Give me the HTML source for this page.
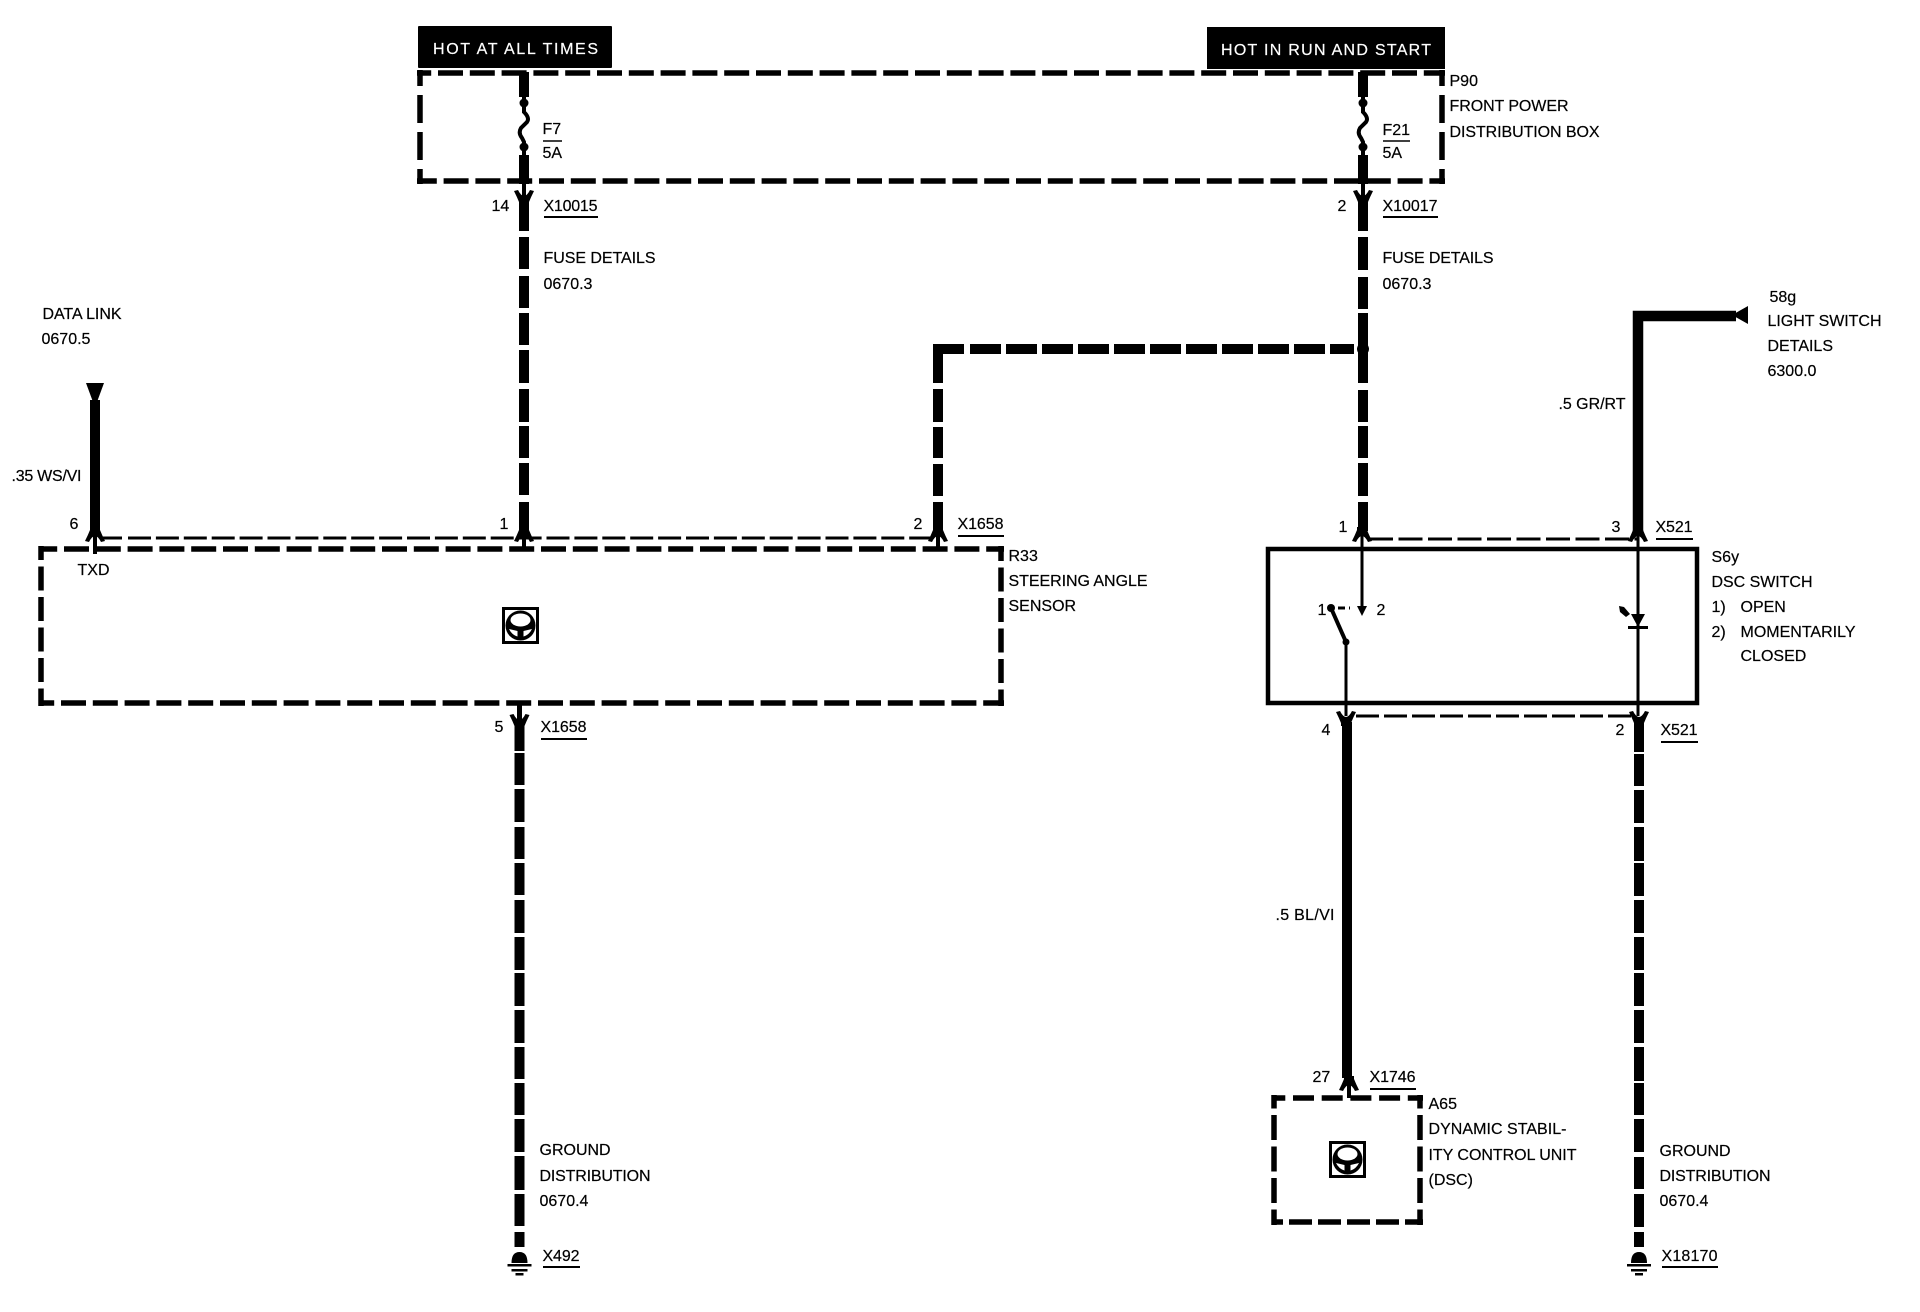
<!DOCTYPE html>
<html><head><meta charset="utf-8"><style>
html,body{margin:0;padding:0;background:#fff}
svg{display:block}
text{font-family:"Liberation Sans",sans-serif;font-size:16px;fill:#000;stroke:#000;stroke-width:.2;transform:translate(-.5px,-.8px)}
text.h{transform:none;fill:#fff;stroke:#fff}
.w{stroke:#000;stroke-width:10;fill:none}
.b{stroke:#000;stroke-width:5.5;fill:none}
.t{stroke:#000;stroke-width:3;fill:none}
.u{stroke:#000;stroke-width:2;fill:none}
.n{stroke:#000;fill:none}
</style></head><body>
<svg width="1920" height="1312" viewBox="0 0 1920 1312" xmlns="http://www.w3.org/2000/svg">
<rect width="1920" height="1312" fill="#fff"/>
<defs>
<path id="y" d="M-10,0 L-6,-1 Q-3,5 0,5 Q3,5 6,-1 L10,0 Q7,6 5,11 L5,14 L-5,14 L-5,11 Q-7,6 -10,0 Z"/>
<g id="wheel">
<rect x="1.5" y="1.5" width="34" height="34" fill="#fff" stroke="#000" stroke-width="3"/>
<circle cx="18.5" cy="18.5" r="15" fill="#000"/>
<ellipse cx="18.5" cy="13" rx="10" ry="6.5" fill="#fff"/>
<path d="M7,22 L15.5,24 L15.5,29.5 Q10,28 7,22Z M30,22 L21.5,24 L21.5,29.5 Q27,28 30,22Z" fill="#fff"/>
</g>
<g id="gnd">
<path d="M-8,-1 Q-8,-12 0,-12 Q8,-12 8,-1 Z" fill="#000"/>
<rect x="-12" y="0" width="24" height="2.5"/>
<rect x="-8" y="5" width="16" height="2.5"/>
<rect x="-4" y="9" width="8" height="2.5"/>
</g>
</defs>

<!-- hot bars -->
<rect x="418" y="26" width="194" height="42" rx="1"/>
<rect x="1207" y="27" width="238" height="42"/>
<text class="h" x="433" y="54" textLength="165" lengthAdjust="spacing">HOT AT ALL TIMES</text>
<text class="h" x="1221" y="55" textLength="210" lengthAdjust="spacing">HOT IN RUN AND START</text>

<!-- P90 dashed box -->
<path class="b" d="M417,73 H1445" stroke-dasharray="25 6.8" stroke-dashoffset="10.8"/>
<path class="b" d="M417,181 H1445" stroke-dasharray="25 6.8" stroke-dashoffset="5.2"/>
<path class="b" d="M420,70 V184" stroke-dasharray="28 9" stroke-dashoffset="12"/>
<path class="b" d="M1442,70 V184" stroke-dasharray="28 9" stroke-dashoffset="12"/>

<!-- R33 dashed box -->
<path class="b" d="M41,549 H1004" stroke-dasharray="25 6.8" stroke-dashoffset="8.8"/>
<path class="b" d="M41,703 H1004" stroke-dasharray="25 6.8" stroke-dashoffset="11.8"/>
<path class="b" d="M41,546 V706" stroke-dasharray="24 6.5" stroke-dashoffset="10"/>
<path class="b" d="M1001,546 V706" stroke-dasharray="24 6.5" stroke-dashoffset="9"/>

<!-- S6y solid box -->
<rect x="1268" y="549" width="429" height="154" fill="none" stroke="#000" stroke-width="4.5"/>

<!-- A65 dashed box -->
<path class="b" d="M1274,1098 H1423" stroke-dasharray="21 7.7" stroke-dashoffset="9.7"/>
<path class="b" d="M1274,1222 H1423" stroke-dasharray="23 6" stroke-dashoffset="14"/>
<path class="b" d="M1274,1095 V1225" stroke-dasharray="25 6.5" stroke-dashoffset="11.5"/>
<path class="b" d="M1420,1095 V1225" stroke-dasharray="25 6.5" stroke-dashoffset="11.5"/>

<!-- Wire A (F7) -->
<path class="w" d="M524,72V97M524,155V184M524,196V231M524,237V269M524,276V308M524,313V345M524,350V383M524,389V422M524,426V458M524,463V495M524,502V531"/>
<path class="n" d="M524,180V196" style="stroke-width:4"/>
<path class="n" d="M524,97 V103 L524,112 Q530,118 527,122 L521,128 Q518,133 522,138 L524,142 V155" style="stroke-width:4"/>
<circle cx="524" cy="103" r="4.5"/><circle cx="524" cy="147" r="4.5"/>
<use href="#y" x="524" y="191"/>

<!-- Wire B (F21) -->
<path class="w" d="M1363,72V97M1363,155V184M1363,196V231M1363,237V270M1363,277V309M1363,313V345M1363,357V383M1363,390V422M1363,426V458M1363,463V496M1363,502V531"/>
<path class="n" d="M1363,180V196" style="stroke-width:4"/>
<path class="n" d="M1363,97 V103 L1363,112 Q1369,118 1366,122 L1360,128 Q1357,133 1361,138 L1363,142 V155" style="stroke-width:4"/>
<circle cx="1363" cy="103" r="4.5"/><circle cx="1363" cy="147" r="4.5"/>
<use href="#y" x="1363" y="191"/>
<path class="w" d="M1363,345V357"/>
<circle cx="1363" cy="349" r="6"/>

<!-- branch to pin 2 -->
<path class="w" d="M933,349H964M970,349H1001M1006,349H1037M1042,349H1073M1078,349H1109M1114,349H1145M1150,349H1181M1186,349H1217M1222,349H1253M1258,349H1289M1294,349H1325M1330,349H1354"/>
<path class="w" d="M938,344V383M938,389V422M938,427V458M938,464V496M938,502V531"/>

<!-- Data link wire -->
<path d="M86,383 H104 L97,402 H93 Z"/>
<path class="w" d="M95,400V531"/>

<!-- thin line over R33 -->
<path class="t" d="M100,538 H122"/>
<path class="t" d="M128,538 H934" stroke-dasharray="23 4.9"/>

<!-- pin arrows top R33 -->
<g>
<use href="#y" transform="translate(95,541) scale(1,-1)"/>
<use href="#y" transform="translate(524,541) scale(1,-1)"/>
<use href="#y" transform="translate(938,541) scale(1,-1)"/>
<path class="n" d="M95,536V554" style="stroke-width:4"/>
<path class="n" d="M524,536V549" style="stroke-width:4"/>
<path class="n" d="M938,536V549" style="stroke-width:4"/>
</g>

<!-- Wire C lower R33 -->
<path class="n" d="M519.5,703V720" style="stroke-width:5"/>
<path class="w" d="M519.5,720V751M519.5,753V785M519.5,789V822M519.5,827V859M519.5,863V895M519.5,900V933M519.5,937V970M519.5,973V1006M519.5,1010V1043M519.5,1047V1079M519.5,1083V1115M519.5,1119V1152M519.5,1156V1190M519.5,1194V1226M519.5,1232V1247"/>
<use href="#y" x="519.5" y="715"/>
<use href="#gnd" x="519.5" y="1264"/>

<!-- Light switch wire -->
<path class="w" d="M1638,531V316H1736" style="stroke-width:10.5"/>
<path d="M1732,315 L1748,306 V324 Z"/>

<!-- thin above S6y -->
<path class="t" d="M1362,539 H1638" stroke-dasharray="24 5.5" stroke-dashoffset="22.5"/>
<use href="#y" transform="translate(1362,541) scale(1,-1)"/>
<use href="#y" transform="translate(1638,541) scale(1,-1)"/>

<!-- S6y inner -->
<path class="n" d="M1362,536V608" style="stroke-width:3"/>
<path d="M1357,606 H1367 L1362,616 Z"/>
<path d="M1338,608 H1350" stroke="#000" stroke-width="3" stroke-dasharray="7 4"/>
<circle cx="1331" cy="608" r="4"/>
<path d="M1331,608 L1346,642" stroke="#000" stroke-width="4"/>
<circle cx="1346" cy="642" r="3.5"/>
<path class="n" d="M1346,642V716" style="stroke-width:3"/>
<path class="n" d="M1638,536V716" style="stroke-width:3"/>
<path d="M1631,614 H1645 L1638,627 Z"/>
<rect x="1628" y="626" width="20" height="3"/>
<path d="M1619,606 L1624,607 L1630,614 L1626,617 L1620,612 Z"/>

<!-- thin below S6y -->
<path class="t" d="M1356,716 H1632" stroke-dasharray="23 5"/>
<use href="#y" x="1346" y="712"/>
<use href="#y" x="1639" y="712"/>

<!-- BL/VI wire -->
<path class="w" d="M1347,722V1078" />
<use href="#y" transform="translate(1349,1090) scale(1,-1)"/>
<path class="n" d="M1349,1085V1098" style="stroke-width:4"/>

<!-- ground wire right -->
<path class="w" d="M1639,722V752M1639,754V786M1639,790V823M1639,827V861M1639,863V896M1639,900V933M1639,937V970M1639,973V1006M1639,1010V1043M1639,1047V1081M1639,1083V1115M1639,1119V1152M1639,1157V1189M1639,1194V1227M1639,1232V1247"/>
<use href="#gnd" x="1639" y="1264"/>

<!-- icons -->
<use href="#wheel" x="502" y="607"/>
<use href="#wheel" x="1329" y="1141"/>

<!-- labels -->
<text x="543" y="135">F7</text><path class="u" d="M543,141H562" style="stroke-width:1.5"/><text x="543" y="159">5A</text>
<text x="492" y="212">14</text>
<text x="544" y="212" textLength="54">X10015</text><path class="u" d="M544,217H598"/>
<text x="544" y="264" textLength="112">FUSE DETAILS</text><text x="544" y="290">0670.3</text>

<text x="1383" y="136">F21</text><path class="u" d="M1383,141H1410" style="stroke-width:1.5"/><text x="1383" y="159">5A</text>
<text x="1338" y="212">2</text>
<text x="1383" y="212" textLength="55">X10017</text><path class="u" d="M1383,217H1438"/>
<text x="1383" y="264" textLength="111">FUSE DETAILS</text><text x="1383" y="290">0670.3</text>

<text x="1450" y="87">P90</text>
<text x="1450" y="112" textLength="119">FRONT POWER</text>
<text x="1450" y="138" textLength="150">DISTRIBUTION BOX</text>

<text x="1770" y="303">58g</text>
<text x="1768" y="327" textLength="114">LIGHT SWITCH</text>
<text x="1768" y="352">DETAILS</text>
<text x="1768" y="377">6300.0</text>
<text x="1559" y="410" textLength="67">.5 GR/RT</text>

<text x="43" y="320" textLength="79">DATA LINK</text>
<text x="42" y="345">0670.5</text>
<text x="12" y="482" textLength="70">.35 WS/VI</text>
<text x="70" y="530">6</text>
<text x="500" y="530">1</text>
<text x="914" y="530">2</text>
<text x="958" y="530" textLength="46">X1658</text><path class="u" d="M958,536H1004"/>
<text x="78" y="576">TXD</text>
<text x="1009" y="562">R33</text>
<text x="1009" y="587" textLength="139">STEERING ANGLE</text>
<text x="1009" y="612">SENSOR</text>
<text x="495" y="733">5</text>
<text x="541" y="733" textLength="46">X1658</text><path class="u" d="M541,739H587"/>

<text x="1339" y="533">1</text>
<text x="1612" y="533">3</text>
<text x="1656" y="533" textLength="37">X521</text><path class="u" d="M1656,539H1693"/>
<text x="1712" y="563">S6y</text>
<text x="1712" y="588" textLength="101">DSC SWITCH</text>
<text x="1712" y="613">1)</text><text x="1741" y="613">OPEN</text>
<text x="1712" y="638">2)</text><text x="1741" y="638" textLength="115">MOMENTARILY</text>
<text x="1741" y="662">CLOSED</text>
<text x="1318" y="616">1</text>
<text x="1377" y="616">2</text>
<text x="1322" y="736">4</text>
<text x="1616" y="736">2</text>
<text x="1661" y="736" textLength="37">X521</text><path class="u" d="M1661,742H1698"/>
<text x="1276" y="921" textLength="59">.5 BL/VI</text>

<text x="1313" y="1083">27</text>
<text x="1370" y="1083" textLength="46">X1746</text><path class="u" d="M1370,1089H1416"/>
<text x="1429" y="1110">A65</text>
<text x="1429" y="1135" textLength="138">DYNAMIC STABIL-</text>
<text x="1429" y="1161" textLength="148">ITY CONTROL UNIT</text>
<text x="1429" y="1186">(DSC)</text>

<text x="1660" y="1157">GROUND</text>
<text x="1660" y="1182" textLength="111">DISTRIBUTION</text>
<text x="1660" y="1207">0670.4</text>
<text x="1662" y="1262" textLength="56">X18170</text><path class="u" d="M1662,1267H1718"/>

<text x="540" y="1156">GROUND</text>
<text x="540" y="1182" textLength="111">DISTRIBUTION</text>
<text x="540" y="1207">0670.4</text>
<text x="543" y="1262" textLength="37">X492</text><path class="u" d="M543,1267H580"/>
</svg>
</body></html>
